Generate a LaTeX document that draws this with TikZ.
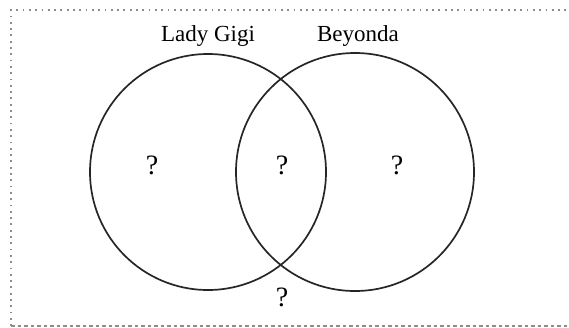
\documentclass[tikz,border=0pt]{standalone}
\usepackage{fontspec}
\setmainfont{Liberation Serif}
\begin{document}
\begin{tikzpicture}[x=1pt,y=-1pt,
  setc/.style={draw=black!85, line width=1.7pt},
  lbl/.style={font=\fontsize{23}{25}\selectfont, inner sep=0pt},
  qm/.style={font=\fontsize{28}{30}\selectfont, inner sep=0pt},
  frm/.style={draw=black!45, line width=2pt}]
\useasboundingbox (0,0) rectangle (569,327);
\coordinate (tl) at (11,10);
\coordinate (tr) at (580,10);
\coordinate (bl) at (11,326);
\coordinate (br) at (580,326);
\draw[frm, dash pattern=on 1.8pt off 4.5pt] (bl) -- (tl) -- (tr);
\draw[frm, dash pattern=on 3.5pt off 3pt] (bl) -- (br);
\node[setc, circle, minimum size=236pt, inner sep=0pt] (A) at (208,172) {};
\node[setc, circle, minimum size=238pt, inner sep=0pt] (B) at (355,172) {};
\node[lbl] (la) at (208,36) {Lady Gigi};
\node[lbl] (lb) at (358,36) {Beyonda};
\node[qm] (q1) at (152,165) {?};
\node[qm] (q2) at (282,165) {?};
\node[qm] (q3) at (397,165) {?};
\node[qm] (q4) at (282,297) {?};
\end{tikzpicture}
\end{document}
